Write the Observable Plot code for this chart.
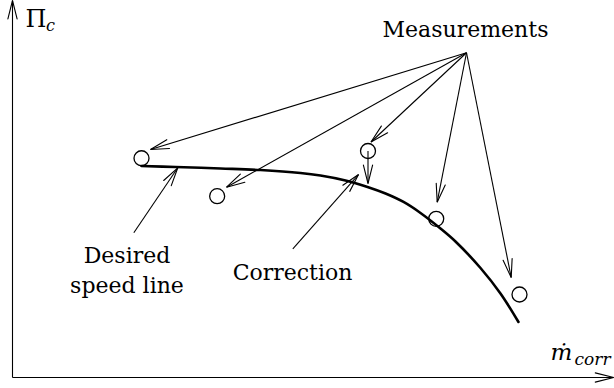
<!DOCTYPE html>
<html>
<head>
<meta charset="utf-8">
<script src="https://cdn.jsdelivr.net/npm/d3@7"></script>
<script src="https://cdn.jsdelivr.net/npm/@observablehq/plot@0.6"></script>
<style>
  html, body { margin: 0; padding: 0; background: #fff; }
</style>
</head>
<body>
<div id="chart"></div>
<script>
// Axis domains (normalised units of corrected mass flow and pressure ratio)
const flowDomain = [0, 10];
const ratioDomain = [0, 5];

// Measured operating points
const measFlow  = [2.150, 3.411, 5.925, 7.062, 8.450];
const measRatio = [2.908, 2.405, 3.004, 2.105, 1.101];

// Desired speed line
const speedFlow  = [2.150, 2.717, 3.467, 4.133, 4.800, 5.133, 5.550, 5.917, 6.217, 6.517, 6.800, 7.133, 7.383, 7.800, 8.133, 8.433];
const speedRatio = [2.805, 2.792, 2.772, 2.752, 2.713, 2.679, 2.613, 2.527, 2.440, 2.328, 2.182, 1.976, 1.804, 1.452, 1.114, 0.736];

// Arrows fanning out from the "Measurements" label
const measSourceFlow = 7.567;
const measSourceRatio = 4.307;
const measTipFlow  = [2.300, 3.567, 5.975, 7.078, 8.312];
const measTipRatio = [3.024, 2.524, 3.123, 2.325, 1.326];

// Correction of a measurement down onto the speed line
const corrFromFlow = 5.925, corrFromRatio = 3.004;
const corrToFlow = 5.925, corrToRatio = 2.573;

// Pointers from the annotations onto the speed line
const pointerFromFlow  = [2.022, 4.672];
const pointerFromRatio = [1.919, 1.707];
const pointerToFlow    = [2.755, 5.767];
const pointerToRatio   = [2.781, 2.692];

// Annotations
const noteText  = ["Measurements", "Desired", "speed line", "Correction"];
const noteFlow  = [7.550, 1.908, 1.908, 4.667];
const noteRatio = [4.510, 1.512, 1.118, 1.296];

// Axis arrows
const axisEndFlow = 10.02;
const axisEndRatio = 5.0;

const xRange = [12, 612];
const yRange = [377, 0];
const X = Plot.scale({x: {domain: flowDomain, range: xRange}});
const Y = Plot.scale({y: {domain: ratioDomain, range: yRange}});

// All arrows as segments in data space
const arrows = [
  {x1: 0, y1: 0, x2: 0, y2: axisEndRatio},
  {x1: 0, y1: 0, x2: axisEndFlow, y2: 0},
  ...measTipFlow.map((f, i) => ({x1: measSourceFlow, y1: measSourceRatio, x2: f, y2: measTipRatio[i]})),
  {x1: corrFromFlow, y1: corrFromRatio, x2: corrToFlow, y2: corrToRatio},
  ...pointerFromFlow.map((f, i) => ({x1: f, y1: pointerFromRatio[i], x2: pointerToFlow[i], y2: pointerToRatio[i]}))
];

// Open arrowheads: two wings of fixed pixel length at a fixed angle to the shaft
const wingLength = 19;
const wingAngle = 14 * Math.PI / 180;
const heads = arrows.flatMap((a, id) => {
  const px1 = X.apply(a.x1), py1 = Y.apply(a.y1);
  const px2 = X.apply(a.x2), py2 = Y.apply(a.y2);
  const back = Math.atan2(py1 - py2, px1 - px2);
  const wing = (s) => ({
    id,
    x: X.invert(px2 + wingLength * Math.cos(back + s * wingAngle)),
    y: Y.invert(py2 + wingLength * Math.sin(back + s * wingAngle))
  });
  return [wing(-1), {id, x: a.x2, y: a.y2}, wing(1)];
});

const speedLine = speedFlow.map((f, i) => ({f, r: speedRatio[i]}));
const points = measFlow.map((f, i) => ({f, r: measRatio[i]}));
const notes = noteText.map((t, i) => ({t, f: noteFlow[i], r: noteRatio[i]}));

const serif = "DejaVu Serif";

const chart = Plot.plot({
  width: 614,
  height: 388,
  margin: 0,
  x: {domain: flowDomain, range: xRange, axis: null},
  y: {domain: ratioDomain, range: yRange, axis: null},
  marks: [
    Plot.link(arrows, {x1: "x1", y1: "y1", x2: "x2", y2: "y2", stroke: "black", strokeWidth: 1.1}),
    Plot.line(heads, {x: "x", y: "y", z: "id", stroke: "black", strokeWidth: 1.1, strokeLinejoin: "miter"}),
    Plot.line(speedLine, {x: "f", y: "r", curve: "catmull-rom", stroke: "black", strokeWidth: 2.6}),
    Plot.dot(points, {x: "f", y: "r", r: 7.5, stroke: "black", strokeWidth: 1.3}),
    Plot.text(notes, {x: "f", y: "r", text: "t", fontFamily: serif, fontSize: 22, textAnchor: "middle", lineAnchor: "bottom"}),
    // Axis labels
    Plot.text(["\u03A0"], {x: 0.217, y: 4.642, fontFamily: serif, fontSize: 24, textAnchor: "start", lineAnchor: "bottom"}),
    Plot.text(["c"], {x: 0.558, y: 4.602, fontFamily: serif, fontSize: 16, fontStyle: "italic", textAnchor: "start", lineAnchor: "bottom"}),
    Plot.text(["\u1E41"], {x: 8.967, y: 0.2255, fontFamily: serif, fontSize: 23, fontStyle: "italic", textAnchor: "start", lineAnchor: "bottom"}),
    Plot.text(["corr"], {x: 9.367, y: 0.172, fontFamily: serif, fontSize: 17, fontStyle: "italic", textAnchor: "start", lineAnchor: "bottom"})
  ]
});

document.getElementById("chart").append(chart);
</script>
</body>
</html>
